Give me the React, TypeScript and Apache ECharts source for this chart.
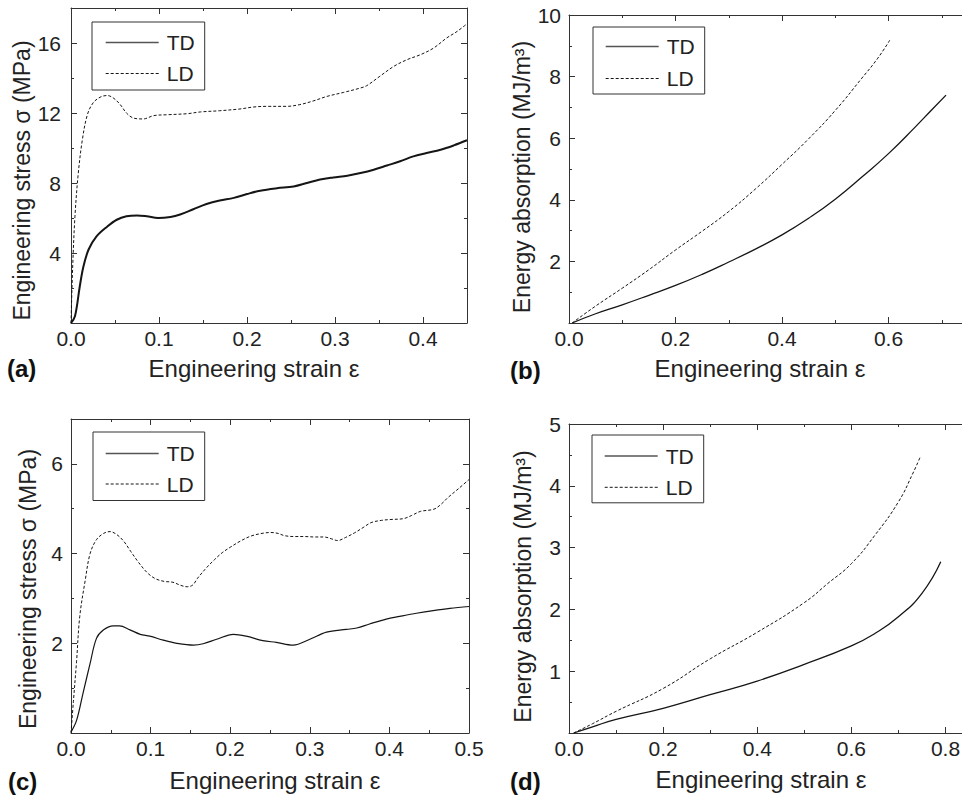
import React, { useEffect, useRef } from 'react';
import * as echarts from 'echarts';

// ---------- data ----------
// (a) stress-strain, sample 1
const aTdX = [0, 0.0045, 0.010, 0.014, 0.020, 0.029, 0.041, 0.052, 0.063, 0.075, 0.086, 0.099, 0.113, 0.124, 0.139, 0.154, 0.169, 0.185, 0.2, 0.215, 0.234, 0.253, 0.268, 0.283, 0.298, 0.314, 0.329, 0.344, 0.359, 0.374, 0.389, 0.404, 0.420, 0.435, 0.45];
const aTdY = [0, 0.38, 2.1, 3.2, 4.2, 4.95, 5.5, 5.9, 6.1, 6.15, 6.1, 6.0, 6.06, 6.2, 6.5, 6.8, 7.0, 7.15, 7.37, 7.56, 7.7, 7.8, 8.0, 8.2, 8.32, 8.42, 8.57, 8.76, 9.0, 9.24, 9.52, 9.71, 9.9, 10.15, 10.44];
const aLdX = [0, 0.0019, 0.0045, 0.0083, 0.013, 0.0186, 0.025, 0.033, 0.041, 0.048, 0.056, 0.063, 0.071, 0.082, 0.094, 0.109, 0.132, 0.147, 0.169, 0.192, 0.207, 0.222, 0.245, 0.26, 0.276, 0.291, 0.31, 0.329, 0.336, 0.351, 0.367, 0.382, 0.397, 0.412, 0.427, 0.439, 0.45];
const aLdY = [0, 3.2, 6.1, 8.57, 10.5, 11.9, 12.57, 12.9, 13.0, 12.86, 12.48, 12.0, 11.71, 11.66, 11.85, 11.9, 11.96, 12.06, 12.13, 12.23, 12.34, 12.38, 12.38, 12.48, 12.7, 12.95, 13.18, 13.43, 13.56, 14.1, 14.67, 15.05, 15.33, 15.71, 16.29, 16.67, 17.1];

// (b) energy absorption, sample 1
const bTdX = [0.006, 0.05, 0.1, 0.15, 0.2, 0.25, 0.3, 0.35, 0.4, 0.45, 0.5, 0.55, 0.6, 0.65, 0.68, 0.708];
const bTdY = [0, 0.3, 0.59, 0.9, 1.22, 1.58, 1.98, 2.4, 2.86, 3.4, 4.02, 4.74, 5.5, 6.36, 6.9, 7.4];
const bLdX = [0.006, 0.05, 0.1, 0.15, 0.2, 0.25, 0.3, 0.35, 0.4, 0.45, 0.5, 0.55, 0.58, 0.603];
const bLdY = [0, 0.55, 1.13, 1.73, 2.37, 2.98, 3.62, 4.35, 5.15, 5.98, 6.9, 7.95, 8.6, 9.2];

// (c) stress-strain, sample 2
const cTdX = [0, 0.007, 0.015, 0.024, 0.032, 0.041, 0.053, 0.061, 0.074, 0.087, 0.099, 0.116, 0.133, 0.154, 0.166, 0.183, 0.204, 0.22, 0.241, 0.258, 0.279, 0.3, 0.321, 0.346, 0.359, 0.375, 0.396, 0.413, 0.434, 0.455, 0.476, 0.5];
const cTdY = [0.02, 0.28, 0.88, 1.55, 2.11, 2.3, 2.39, 2.39, 2.3, 2.2, 2.16, 2.07, 2.0, 1.96, 1.99, 2.09, 2.2, 2.16, 2.06, 2.02, 1.96, 2.09, 2.25, 2.31, 2.34, 2.43, 2.54, 2.6, 2.67, 2.73, 2.78, 2.82];
const cLdX = [0, 0.003, 0.007, 0.011, 0.018, 0.024, 0.032, 0.041, 0.049, 0.057, 0.066, 0.075, 0.085, 0.096, 0.106, 0.117, 0.128, 0.138, 0.146, 0.153, 0.159, 0.17, 0.18, 0.19, 0.2, 0.213, 0.226, 0.24, 0.251, 0.26, 0.268, 0.28, 0.293, 0.306, 0.318, 0.327, 0.335, 0.345, 0.356, 0.367, 0.377, 0.39, 0.402, 0.418, 0.428, 0.439, 0.456, 0.465, 0.473, 0.487, 0.5];
const cLdY = [0, 0.7, 1.6, 2.6, 3.42, 4.0, 4.31, 4.45, 4.49, 4.43, 4.28, 4.05, 3.8, 3.57, 3.44, 3.38, 3.36, 3.29, 3.26, 3.3, 3.45, 3.68, 3.86, 4.02, 4.14, 4.28, 4.39, 4.45, 4.47, 4.45, 4.4, 4.38, 4.38, 4.37, 4.37, 4.33, 4.29, 4.36, 4.46, 4.58, 4.69, 4.74, 4.76, 4.78, 4.85, 4.94, 4.99, 5.1, 5.24, 5.45, 5.65];

// (d) energy absorption, sample 2
const dTdX = [0.01, 0.05, 0.1, 0.2, 0.3, 0.4, 0.5, 0.6, 0.65, 0.7, 0.75, 0.79];
const dTdY = [0, 0.1, 0.22, 0.4, 0.62, 0.84, 1.11, 1.41, 1.61, 1.88, 2.26, 2.77];
const dLdX = [0.01, 0.05, 0.1, 0.2, 0.3, 0.4, 0.5, 0.55, 0.6, 0.65, 0.7, 0.73, 0.746];
const dLdY = [0, 0.15, 0.35, 0.72, 1.2, 1.63, 2.11, 2.42, 2.74, 3.2, 3.74, 4.19, 4.46];

// tick labels
const aXTicks = [0, 0.1, 0.2, 0.3, 0.4];
const aYTicks = [4, 8, 12, 16];
const bXTicks = [0, 0.2, 0.4, 0.6];
const bYTicks = [2, 4, 6, 8, 10];
const cXTicks = [0, 0.1, 0.2, 0.3, 0.4, 0.5];
const cYTicks = [2, 4, 6];
const dXTicks = [0, 0.2, 0.4, 0.6, 0.8];
const dYTicks = [1, 2, 3, 4, 5];

const seriesNames = ['TD', 'LD'];
const xName = 'Engineering strain ε';
const stressName = 'Engineering stress σ (MPa)';
const energyName = 'Energy absorption (MJ/m³)';

// ---------- styling ----------
const FONT = "'Liberation Sans', Arial, Helvetica, sans-serif";
const INK = '#151515';
const AXIS = '#333333';

const zip = (xs: number[], ys: number[]) => xs.map((x, i) => [x, ys[i]]);

const fmt = (ticks: number[], dec: number) => (v: number) => {
  const t = ticks.find((k) => Math.abs(k - v) < 1e-6);
  return t === undefined ? '' : t.toFixed(dec);
};

type Panel = {
  grid: { left: number; top: number; width: number; height: number };
  xMax: number; xInt: number; xTicks: number[];
  yMax: number; yInt: number; yTicks: number[];
  yName: string; yNameGap: number; yNameShift: number; yLabelMargin: number;
  xNameGap: number; xNameShift: number;
  legend: { left: number; top: number; padding: number[]; gap: number };
  td: number[][]; ld: number[][]; tdWidth: number; smooth: number;
  tag: string; tagX: number; tagY: number;
};

const panels: Panel[] = [
  {
    grid: { left: 71, top: 8, width: 396, height: 315 },
    xMax: 0.45, xInt: 0.1, xTicks: aXTicks,
    yMax: 18, yInt: 4, yTicks: aYTicks,
    yName: stressName, yNameGap: 36, yNameShift: 15, yLabelMargin: 10,
    xNameGap: 33, xNameShift: -15,
    legend: { left: 92, top: 22, padding: [10, 10, 6, 13], gap: 10 },
    td: zip(aTdX, aTdY), ld: zip(aLdX, aLdY), tdWidth: 2, smooth: 0.35,
    tag: '(a)', tagX: 7, tagY: 368,
  },
  {
    grid: { left: 569, top: 15, width: 426, height: 308 },
    xMax: 0.8, xInt: 0.2, xTicks: bXTicks,
    yMax: 10, yInt: 2, yTicks: bYTicks,
    yName: energyName, yNameGap: 35, yNameShift: 8, yLabelMargin: 8,
    xNameGap: 33, xNameShift: -22,
    legend: { left: 593, top: 27, padding: [9, 10, 5, 12], gap: 11 },
    td: zip(bTdX, bTdY), ld: zip(bLdX, bLdY), tdWidth: 1.3, smooth: 0.5,
    tag: '(b)', tagX: 510, tagY: 370,
  },
  {
    grid: { left: 71, top: 419, width: 398, height: 314 },
    xMax: 0.5, xInt: 0.1, xTicks: cXTicks,
    yMax: 7, yInt: 2, yTicks: cYTicks,
    yName: stressName, yNameGap: 32, yNameShift: 13, yLabelMargin: 8,
    xNameGap: 35, xNameShift: 5,
    legend: { left: 93, top: 432, padding: [11, 10, 6, 12], gap: 9.5 },
    td: zip(cTdX, cTdY), ld: zip(cLdX, cLdY), tdWidth: 1.2, smooth: 0.35,
    tag: '(c)', tagX: 8, tagY: 781,
  },
  {
    grid: { left: 569, top: 424, width: 400, height: 309 },
    xMax: 0.85, xInt: 0.2, xTicks: dXTicks,
    yMax: 5, yInt: 1, yTicks: dYTicks,
    yName: energyName, yNameGap: 35, yNameShift: 8, yLabelMargin: 8,
    xNameGap: 34, xNameShift: -8,
    legend: { left: 592, top: 435, padding: [10.5, 10, 5, 12], gap: 10.3 },
    td: zip(dTdX, dTdY), ld: zip(dLdX, dLdY), tdWidth: 1.3, smooth: 0.5,
    tag: '(d)', tagX: 510, tagY: 781,
  },
];

function buildOption() {
  const grid: any[] = [];
  const xAxis: any[] = [];
  const yAxis: any[] = [];
  const series: any[] = [];
  const legend: any[] = [];
  const graphic: any[] = [];

  const tickCommon = {
    axisLine: { show: true, onZero: false, lineStyle: { color: AXIS, width: 1 } },
    axisTick: { show: true, inside: true, length: 6, lineStyle: { color: AXIS, width: 1 } },
    minorTick: { show: true, splitNumber: 2, length: 3, lineStyle: { color: AXIS, width: 1 } },
    splitLine: { show: false },
    minorSplitLine: { show: false },
  };

  panels.forEach((p, i) => {
    grid.push({ ...p.grid, containLabel: false, outerBoundsMode: 'none' });
    const xPad = p.xNameShift >= 0 ? [0, 0, 0, 2 * p.xNameShift] : [0, -2 * p.xNameShift, 0, 0];
    xAxis.push({
      type: 'value', gridIndex: i, position: 'bottom', min: 0, max: p.xMax, interval: p.xInt,
      ...tickCommon,
      axisLabel: {
        show: true, formatter: fmt(p.xTicks, 1), fontSize: 21, color: '#222',
        fontFamily: FONT, margin: 5,
      },
      name: xName, nameLocation: 'middle', nameGap: p.xNameGap,
      nameTextStyle: { fontSize: 24, color: '#222', fontFamily: FONT, padding: xPad },
    });
    xAxis.push({
      type: 'value', gridIndex: i, position: 'top', min: 0, max: p.xMax, interval: p.xInt,
      ...tickCommon,
      axisLabel: { show: false },
    });
    yAxis.push({
      type: 'value', gridIndex: i, position: 'left', min: 0, max: p.yMax, interval: p.yInt,
      ...tickCommon,
      axisLabel: {
        show: true, formatter: fmt(p.yTicks, 0), fontSize: 21, color: '#222',
        fontFamily: FONT, margin: p.yLabelMargin,
      },
      name: p.yName, nameLocation: 'middle', nameGap: p.yNameGap,
      nameTextStyle: { fontSize: 23, color: '#222', fontFamily: FONT, padding: [0, 2 * p.yNameShift, 0, 0] },
    });
    yAxis.push({
      type: 'value', gridIndex: i, position: 'right', min: 0, max: p.yMax, interval: p.yInt,
      ...tickCommon,
      axisLabel: { show: false },
    });

    series.push({
      type: 'line', name: seriesNames[0], xAxisIndex: 2 * i, yAxisIndex: 2 * i,
      data: p.td, symbol: 'none', smooth: p.smooth, clip: true, silent: true,
      lineStyle: { color: INK, width: p.tdWidth, type: 'solid' },
      itemStyle: { color: INK },
    });
    series.push({
      type: 'line', name: seriesNames[1], xAxisIndex: 2 * i, yAxisIndex: 2 * i,
      data: p.ld, symbol: 'none', smooth: p.smooth, clip: true, silent: true,
      lineStyle: { color: INK, width: 1, type: [3, 2] },
      itemStyle: { color: INK },
    });

    legend.push({
      show: true, orient: 'vertical', left: p.legend.left, top: p.legend.top,
      padding: p.legend.padding, itemGap: p.legend.gap, itemWidth: 53, itemHeight: 14,
      borderColor: AXIS, borderWidth: 1, backgroundColor: '#fff', selectedMode: false,
      itemStyle: { opacity: 0, color: 'rgba(0,0,0,0)', borderWidth: 0 },
      data: [
        { name: seriesNames[0], lineStyle: { color: '#555', width: 1.4, type: 'solid' } },
        { name: seriesNames[1], lineStyle: { color: INK, width: 1, type: [3, 2] } },
      ],
      textStyle: { fontSize: 21, lineHeight: 20, color: '#222', fontFamily: FONT, padding: [0, 0, 0, 3] },
    });

    graphic.push({
      type: 'text', x: p.tagX, y: p.tagY,
      style: {
        text: p.tag, fontSize: 24, fontWeight: 'bold', fontFamily: FONT,
        fill: '#111', verticalAlign: 'middle', align: 'left',
      },
    });
  });

  return {
    animation: false,
    backgroundColor: '#ffffff',
    grid, xAxis, yAxis, series, legend, graphic,
  };
}

export default function App() {
  const ref = useRef<HTMLDivElement>(null);
  useEffect(() => {
    if (!ref.current) return;
    const chart = echarts.init(ref.current, undefined, { renderer: 'svg', width: 962, height: 797 });
    chart.setOption(buildOption() as any);
    return () => chart.dispose();
  }, []);
  return (
    <div
      ref={ref}
      style={{ position: 'absolute', left: 0, top: 0, width: 962, height: 797, background: '#fff' }}
    />
  );
}
